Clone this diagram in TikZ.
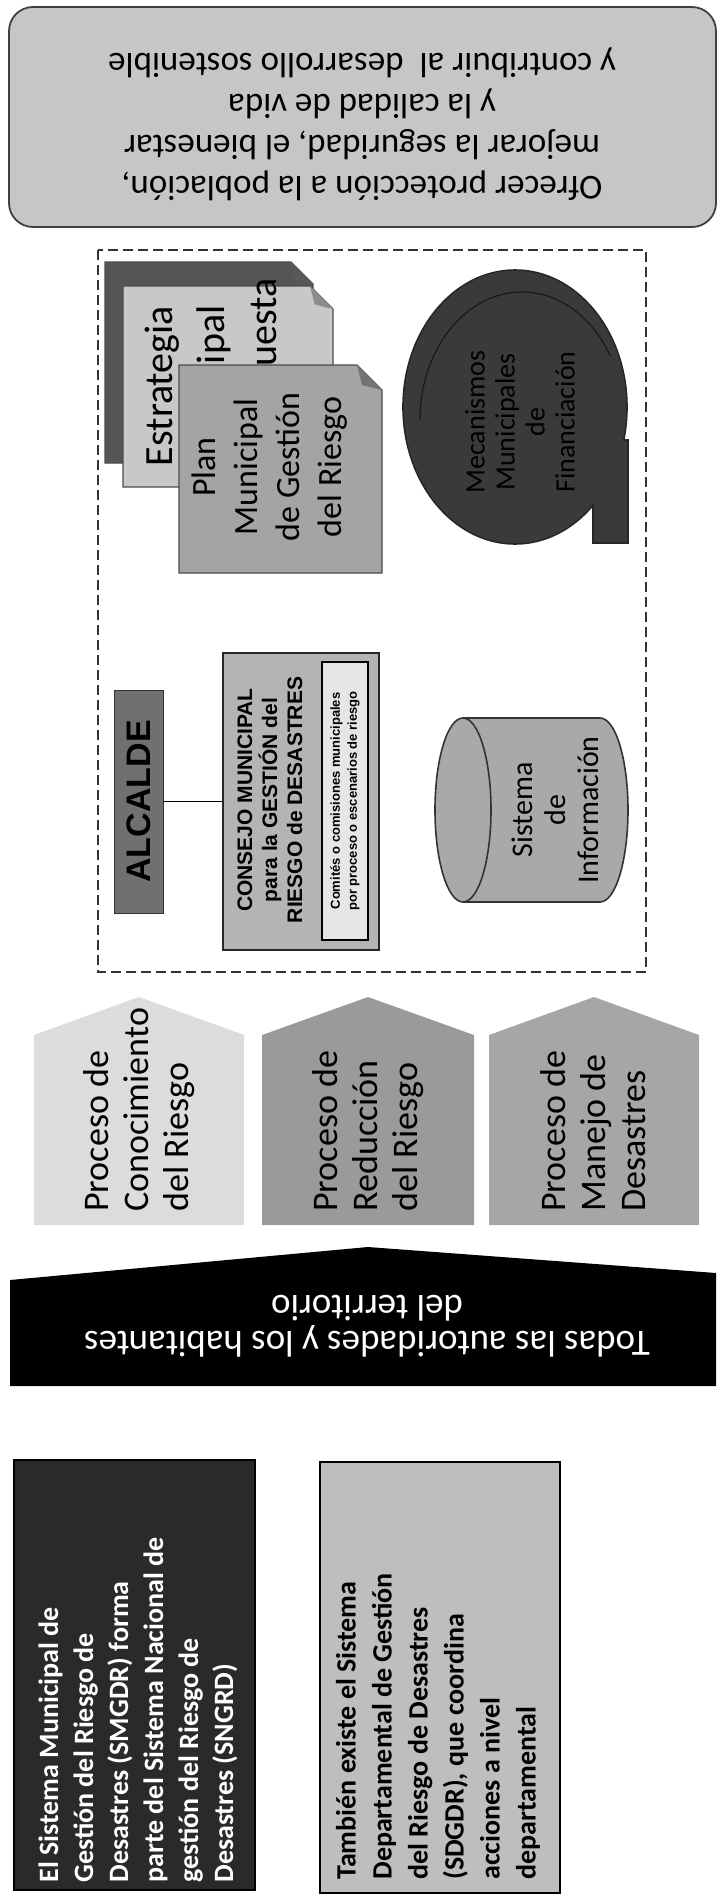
\documentclass[tikz,border=0pt]{standalone}
\usepackage{fontspec}
\setmainfont{Carlito}
\newfontfamily\arialfont{Liberation Sans}
\usetikzlibrary{positioning}
\definecolor{goalgray}{HTML}{C6C6C6}
\definecolor{docback}{HTML}{555555}
\definecolor{docmid}{HTML}{C8C8C8}
\definecolor{docfront}{HTML}{A4A4A4}
\definecolor{mecgray}{HTML}{3A3A3A}
\definecolor{sisgray}{HTML}{A9A9A9}
\definecolor{alcgray}{HTML}{707070}
\definecolor{consgray}{HTML}{B4B4B4}
\definecolor{comgray}{HTML}{E6E6E6}
\definecolor{procA}{HTML}{DCDCDC}
\definecolor{procB}{HTML}{9A9A9A}
\definecolor{procC}{HTML}{A6A6A6}
\definecolor{darkbox}{HTML}{2A2A2A}
\definecolor{lightbox}{HTML}{BEBEBE}
\tikzset{
  vtext/.style={rotate=90, inner sep=0pt},
  utext/.style={rotate=180, align=center, inner sep=0pt},
  docline/.style={draw=black!70, line width=0.6pt}
}

\begin{document}
\begin{tikzpicture}[x=0.5pt,y=-0.5pt]
\useasboundingbox (0,0) rectangle (721,1900);
% objetivo
\draw[rounded corners=12pt, fill=goalgray, draw=black!75, line width=0.9pt] (9,7) rectangle (716,227);
\node[utext, font=\fontsize{17.5}{20.5}\selectfont] (objetivo) at (362,124) {Ofrecer protección a la población,\\mejorar la seguridad, el bienestar\\y la calidad de vida\\y contribuir al\ \ desarrollo sostenible};
% marco municipal
\draw[dashed, dash pattern=on 5pt off 2.5pt, line width=0.7pt, draw=black!80] (98,250) rectangle (646,972);
% documentos
\draw[docline, fill=docback] (105,262) -- (291,262) -- (313,284) -- (313,463) -- (105,463) -- cycle;
\fill[black!65] (291,262) -- (313,284) -- (295.4,279.6) -- cycle;
\draw[docline, fill=docmid] (123,286) -- (310,286) -- (333,309) -- (333,487) -- (123,487) -- cycle;
\fill[black!45] (310,286) -- (333,309) -- (314.6,304.4) -- cycle;
\node[vtext, align=center, font=\fontsize{20}{26}\selectfont] (estrategia) at (214,386) {Estrategia\\Municipal\\de Respuesta};
\draw[docline, fill=docfront] (179,365) -- (357,365) -- (382,390) -- (382,573) -- (179,573) -- cycle;
\fill[black!55] (357,365) -- (382,390) -- (362,385) -- cycle;
\node[vtext, align=center, font=\fontsize{17}{21}\selectfont] (planmun) at (270,467) {Plan\\Municipal\\de Gestión\\del Riesgo};
% mecanismos
\draw[fill=mecgray, draw=black!85, line width=0.8pt] (515,407) ellipse [x radius=112, y radius=137];
\draw[fill=mecgray, draw=black!85, line width=0.8pt] (593,440) rectangle (628,543);
\fill[mecgray] (515,407) ellipse [x radius=111, y radius=136];
\draw[black!90, line width=0.6pt] (420,420) arc[start angle=180, end angle=330, x radius=102, y radius=128];
\node[vtext, align=center, text=black, font=\fontsize{14}{15}\selectfont] (mecanismos) at (520,422) {Mecanismos\\Municipales\\de\\Financiación};
% sistema de informacion
\draw[fill=sisgray, draw=black!80, line width=0.8pt] (600,810) ellipse [x radius=28, y radius=92];
\fill[sisgray] (463,718) rectangle (600,902);
\draw[black!80, line width=0.8pt] (463,718) -- (600,718) (463,902) -- (600,902);
\draw[fill=sisgray, draw=black!80, line width=0.8pt] (463,810) ellipse [x radius=28, y radius=92];
\node[vtext, align=center, font=\fontsize{15}{16.5}\selectfont] (sistinfo) at (555,810) {Sistema\\de\\Información};
% alcalde y consejo
\node[draw=black!80, fill=alcgray, rotate=90, minimum width=111.5pt, minimum height=24.5pt, inner sep=0pt, font=\arialfont\bfseries\fontsize{17}{20}\selectfont] (alcalde) at (138.5,801.5) {ALCALDE};
\node[draw=black!85, line width=1pt, fill=consgray, rotate=90, minimum width=148.5pt, minimum height=78pt, inner sep=0pt] (consejo) at (301,801.5) {};
\draw[line width=0.7pt] (alcalde.south) -- (consejo.north);
\node[vtext, align=center, font=\arialfont\bfseries\fontsize{10.5}{12.5}\selectfont] (consejotxt) at (270,800) {CONSEJO MUNICIPAL\\para la GESTIÓN del\\RIESGO de DESASTRES};
\node[draw=black, line width=0.6pt, fill=comgray, rotate=90, minimum width=139pt, minimum height=23pt, inner sep=0pt, align=center, font=\arialfont\bfseries\fontsize{6.5}{8.5}\selectfont] (comites) at (345,801) {Comités o comisiones municipales\\por proceso o escenarios de riesgo};
% procesos
\fill[procA] (34,1035) -- (139,997) -- (244,1035) -- (244,1225) -- (34,1225) -- cycle;
\fill[procB] (262,1035) -- (368,997) -- (474,1035) -- (474,1225) -- (262,1225) -- cycle;
\fill[procC] (489,1035) -- (594,997) -- (699,1035) -- (699,1225) -- (489,1225) -- cycle;
\node[vtext, anchor=west, align=left, font=\fontsize{18}{20}\selectfont] (procono) at (139,1212) {Proceso de\\Conocimiento\\del Riesgo};
\node[vtext, anchor=west, align=left, font=\fontsize{18}{20}\selectfont] (proredu) at (368,1212) {Proceso de\\Reducción\\del Riesgo};
\node[vtext, anchor=west, align=left, font=\fontsize{18}{20}\selectfont] (promane) at (593,1212) {Proceso de\\Manejo de\\Desastres};
% todos
\fill[black] (10,1280) -- (368,1247) -- (716,1273) -- (716,1386) -- (10,1386) -- cycle;
\node[utext, text=white, font=\fontsize{18.5}{18}\selectfont] (todas) at (367,1326) {Todas las autoridades y los habitantes\\del territorio};
% sistemas
\draw[fill=darkbox, draw=black, line width=0.8pt] (14,1460) rectangle (255,1890);
\node[vtext, anchor=west, align=left, text=white, font=\bfseries\fontsize{14}{17.5}\selectfont] (smgdr) at (138,1883) {El Sistema Municipal de\\Gestión del Riesgo de\\Desastres (SMGDR) forma\\parte del Sistema Nacional de\\gestión del Riesgo de\\Desastres (SNGRD)};
\draw[fill=lightbox, draw=black, line width=1pt] (320,1462) rectangle (560,1893);
\node[vtext, anchor=west, align=left, font=\bfseries\fontsize{14}{18}\selectfont] (sdgdr) at (438,1880) {También existe el Sistema\\Departamental de Gestión\\del Riesgo de Desastres\\(SDGDR), que coordina\\acciones a nivel\\departamental};
\end{tikzpicture}
\end{document}
